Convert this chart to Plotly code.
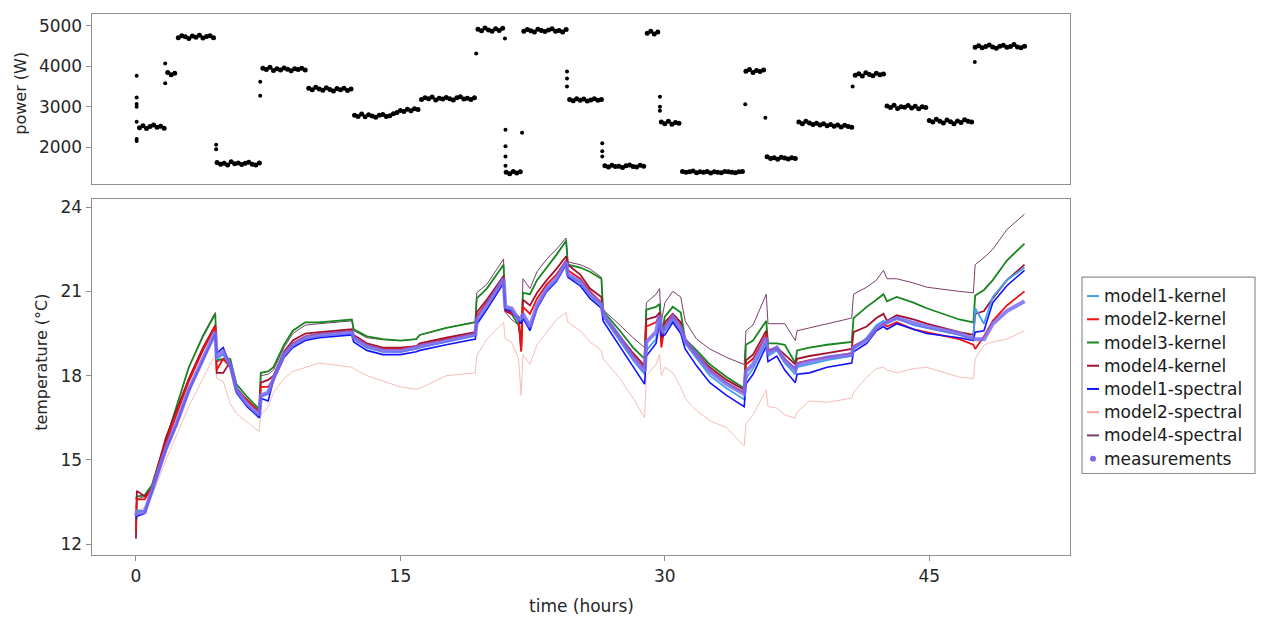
import numpy as np
import plotly.graph_objects as go

W, H = 1261, 622

# ---------------- heater power (top panel) ----------------
# regular log, one reading every 0.2 h starting at t = 0.2 h
sample_interval_h = 0.2
power_w = [
    2480, 2530, 2460, 2510, 2550, 2490, 2520, 2470,
    3850, 3790, 3830,
    4710, 4760, 4730, 4690, 4750, 4720, 4770, 4700, 4740, 4760, 4710,
    1620, 1580, 1600, 1560, 1640, 1590, 1610, 1570, 1600, 1630, 1580, 1560, 1610,
    3950, 3920, 3980, 3900, 3940, 3910, 3960, 3930, 3890, 3940, 3920, 3950, 3910,
    3460, 3420, 3480, 3440, 3410, 3470, 3430, 3390, 3450, 3420, 3460, 3400, 3440,
    2790, 2760, 2820, 2750, 2800, 2770, 2740, 2790, 2810, 2760, 2780, 2830,
    2860, 2910, 2880, 2940, 2900, 2950, 2930,
    3180, 3220, 3200, 3240, 3170, 3210, 3190, 3230, 3200, 3170, 3220, 3250, 3190, 3210, 3180, 3220,
    4920, 4880, 4950, 4900, 4870, 4930, 4890, 4940,
    1380, 1340, 1400, 1360, 1390,
    4870, 4910, 4880, 4850, 4920, 4890, 4860, 4900, 4930, 4870, 4890, 4850, 4910,
    3180, 3150, 3200, 3160, 3190, 3140, 3170, 3200, 3160, 3180,
    1540, 1510, 1550, 1520, 1530, 1500, 1540, 1560, 1520, 1510, 1550, 1530,
    4820, 4870, 4800, 4850,
    2620, 2580, 2640, 2570, 2610, 2590,
    1400, 1380, 1390, 1410, 1370, 1390, 1380, 1400, 1360, 1390, 1380, 1370, 1400, 1390, 1380, 1370, 1390, 1400,
    3880, 3920, 3850, 3900, 3870, 3910,
    1760, 1720, 1740, 1700, 1750, 1730, 1710, 1740, 1720,
    2620, 2580, 2640, 2600, 2560, 2590, 2550, 2580, 2530, 2560, 2520, 2550, 2500, 2540, 2510, 2490,
    3780, 3820, 3760, 3840, 3800, 3770, 3830, 3790, 3810,
    3020, 2980, 3040, 2960, 3000, 2990, 3030, 2970, 3010, 2950, 3000, 2980,
    2660, 2620, 2690, 2640, 2600, 2670, 2630, 2580, 2650, 2610, 2680, 2640, 2620,
    4470, 4510, 4460, 4490, 4530, 4480, 4450, 4500, 4520, 4470, 4490, 4540, 4480, 4460, 4500,
]
power_t = sample_interval_h * np.arange(1, len(power_w) + 1)

# fast readings taken while the power level was switching
switch_t = [0.04, 0.04, 0.04, 0.04, 0.04, 0.04, 0.04,
            1.66, 1.66, 4.55, 4.55, 7.05, 7.05, 19.3, 20.93,
            20.96, 20.96, 20.96, 20.96, 21.9, 24.45, 24.45, 24.45,
            26.45, 26.45, 26.45, 29.72, 29.72, 29.72, 34.56, 35.7, 40.65, 47.58]
switch_w = [3770, 3230, 3070, 3000, 2630, 2200, 2150,
            4070, 3580, 2060, 1950, 3620, 3270, 4320, 4690,
            2430, 2020, 1770, 1540, 2360, 3870, 3700, 3500,
            2100, 1900, 1770, 3250, 3000, 2900, 3060, 2730, 3500, 4110]

# ---------------- room temperature (bottom panel) ----------------
time_h = [
    0.00, 0.05, 0.5, 0.9, 1.7, 2.3, 3.0, 3.8, 4.50, 4.58,
    4.95, 5.35, 5.7, 6.3, 7.00, 7.08, 7.5, 7.8, 8.4, 8.9,
    9.6, 10.4, 12.25, 12.35, 13.1, 14.0, 15.0, 15.9, 16.1, 17.6,
    19.25, 19.33, 19.9, 20.85, 20.95, 21.3, 21.7, 21.85, 21.95, 22.35,
    22.75, 23.3, 23.85, 24.4, 24.5, 25.2, 25.75, 26.4, 26.5, 27.45,
    28.2, 28.85, 28.95, 29.5, 29.7, 29.8, 30.0, 30.45, 30.9, 31.15,
    31.8, 32.55, 33.5, 34.5, 34.6, 35.0, 35.75, 35.85, 36.35, 36.8,
    37.4, 37.5, 38.2, 39.2, 40.6, 40.7, 41.45, 42.0, 42.4, 42.6,
    43.15, 44.1, 44.85, 46.7, 47.5, 47.6, 48.1, 48.6, 49.4, 50.4,
]

temp_measured = [
    13.0, 13.1, 13.15, 13.9, 15.4, 16.3, 17.5, 18.6, 19.55, 18.7,
    18.85, 18.4, 17.5, 17.0, 16.6, 17.3, 17.4, 17.9, 18.75, 19.1,
    19.35, 19.45, 19.55, 19.35, 19.05, 18.9, 18.88, 19.0, 19.05, 19.24,
    19.47, 20.0, 20.5, 21.45, 20.45, 20.4, 20.0, 20.05, 20.2, 19.75,
    20.5, 21.1, 21.45, 22.05, 21.6, 21.35, 20.9, 20.55, 20.2, 19.35,
    18.65, 18.15, 19.2, 19.55, 20.15, 19.6, 19.7, 20.1, 19.7, 19.25,
    18.75, 18.15, 17.7, 17.35, 18.15, 18.4, 19.35, 18.8, 19.0, 18.55,
    18.2, 18.4, 18.5, 18.65, 18.75, 19.0, 19.25, 19.7, 19.85, 19.9,
    20.05, 19.88, 19.75, 19.5, 19.35, 19.3, 19.3, 19.85, 20.3, 20.65,
]
model1_kernel = [
    13.0, 13.2, 13.2, 13.9, 15.4, 16.3, 17.5, 18.6, 19.5, 18.6,
    18.75, 18.35, 17.45, 16.95, 16.55, 17.25, 17.35, 17.85, 18.7, 19.05,
    19.3, 19.4, 19.5, 19.3, 19.0, 18.85, 18.85, 18.95, 19.0, 19.2,
    19.42, 19.8, 20.4, 21.35, 20.4, 20.35, 20.0, 19.9, 20.1, 19.7,
    20.45, 21.05, 21.4, 22.0, 21.55, 21.3, 20.85, 20.5, 20.1, 19.25,
    18.55, 18.05, 18.9, 19.3, 20.0, 19.5, 19.6, 20.0, 19.6, 19.15,
    18.6, 18.0, 17.55, 17.15, 17.9, 18.25, 19.2, 18.7, 18.9, 18.45,
    18.05, 18.3, 18.4, 18.55, 18.7, 18.95, 19.35, 19.8, 19.95, 19.85,
    20.05, 19.8, 19.7, 19.45, 19.3, 20.4, 19.85, 20.8, 21.4, 21.85,
]
model2_kernel = [
    12.5, 13.6, 13.6, 14.0, 15.6, 16.6, 17.8, 18.9, 19.75, 18.2,
    18.6, 18.3, 17.5, 17.15, 16.7, 17.6, 17.6, 17.85, 18.7, 19.15,
    19.4, 19.5, 19.6, 19.4, 19.1, 18.95, 18.95, 19.05, 19.1, 19.3,
    19.5, 20.1, 20.6, 21.45, 20.35, 20.25, 20.05, 18.85, 20.45, 20.2,
    20.75, 21.25, 21.6, 22.1, 21.75, 21.45, 21.0, 20.6, 20.1, 19.35,
    18.7, 18.25, 19.75, 19.9, 20.15, 19.0, 19.8, 20.1, 19.8, 19.25,
    18.7, 18.2, 17.75, 17.4, 18.4, 18.6, 19.45, 18.85, 18.95, 18.6,
    18.25, 18.45, 18.55, 18.65, 18.8, 19.05, 19.3, 19.65, 19.85, 19.75,
    19.9, 19.65, 19.55, 19.3, 19.1, 18.95, 19.4, 19.95, 20.5, 21.0,
]
model3_kernel = [
    13.6, 13.7, 13.75, 14.1, 15.7, 16.9, 18.3, 19.4, 20.2, 18.55,
    18.6, 18.6, 17.7, 17.25, 16.8, 18.1, 18.15, 18.3, 19.1, 19.6,
    19.9, 19.9, 20.0, 19.65, 19.4, 19.3, 19.25, 19.3, 19.45, 19.7,
    19.9, 20.75, 21.1, 21.95, 20.35, 20.2, 19.8, 19.2, 20.95, 20.9,
    21.4, 21.85, 22.3, 22.8, 21.95, 21.85, 21.7, 21.45, 20.3, 19.6,
    19.0, 18.6, 20.35, 20.45, 20.55, 19.5, 20.1, 20.45, 20.25, 19.3,
    18.9, 18.4, 17.95, 17.55, 19.1, 19.25, 19.95, 19.15, 19.15, 19.1,
    18.45, 18.9, 19.0, 19.1, 19.2, 20.05, 20.45, 20.7, 20.9, 20.65,
    20.8, 20.6, 20.4, 20.0, 19.9, 20.85, 21.05, 21.4, 22.1, 22.7,
]
model4_kernel = [
    12.2, 13.9, 13.7, 14.0, 15.8, 16.8, 17.9, 19.0, 19.8, 18.1,
    18.1, 18.5, 17.55, 17.1, 16.7, 17.75, 17.85, 18.0, 18.85, 19.25,
    19.5, 19.55, 19.65, 19.45, 19.15, 19.0, 19.0, 19.05, 19.15, 19.35,
    19.55, 20.25, 20.7, 21.55, 20.3, 20.2, 20.1, 18.9, 20.7, 20.5,
    20.95, 21.4, 21.8, 22.25, 21.95, 21.6, 21.1, 20.8, 20.15, 19.4,
    18.8, 18.35, 20.0, 20.1, 20.25, 19.2, 19.9, 20.2, 19.9, 19.3,
    18.8, 18.3, 17.85, 17.5, 18.55, 18.75, 19.6, 18.9, 19.0, 18.75,
    18.4, 18.6, 18.7, 18.8, 18.95, 19.55, 19.75, 20.05, 20.2, 19.95,
    20.15, 20.0, 19.85, 19.55, 19.45, 20.2, 20.3, 20.75, 21.4, 21.95,
]
model1_spectral = [
    12.9, 13.0, 13.1, 13.85, 15.35, 16.25, 17.45, 18.55, 19.5, 18.8,
    19.0, 18.35, 17.4, 16.9, 16.5, 17.2, 17.1, 17.85, 18.65, 19.0,
    19.25, 19.35, 19.45, 19.2, 18.9, 18.75, 18.75, 18.85, 18.9, 19.1,
    19.3, 19.85, 20.35, 21.3, 20.35, 20.3, 19.95, 19.85, 20.05, 19.6,
    20.4, 21.0, 21.35, 21.95, 21.5, 21.2, 20.75, 20.4, 19.95, 19.05,
    18.3, 17.7, 18.7, 19.15, 19.9, 19.4, 19.45, 19.9, 19.5, 18.95,
    18.35, 17.75, 17.3, 16.9, 17.7, 18.05, 19.05, 18.5, 18.7, 18.2,
    17.75, 18.05, 18.1, 18.3, 18.45, 18.85, 19.15, 19.6, 19.75, 19.65,
    19.85, 19.65, 19.5, 19.35, 19.25, 19.55, 19.6, 20.6, 21.2, 21.75,
]
model2_spectral = [
    12.9, 13.2, 13.3, 13.7, 15.0, 15.9, 16.9, 17.9, 18.75, 17.9,
    17.8, 17.0, 16.65, 16.35, 16.0, 16.6, 16.9, 17.4, 17.9, 18.15,
    18.3, 18.45, 18.3, 18.25, 18.0, 17.8, 17.6, 17.52, 17.55, 18.0,
    18.1, 18.7, 19.3, 19.9, 19.3, 19.2, 18.6, 17.3, 18.75, 18.4,
    19.1, 19.55, 20.0, 20.25, 19.9, 19.6, 19.2, 18.9, 18.6, 17.9,
    17.2, 16.5, 18.0, 18.4, 18.75, 18.0, 18.3, 18.1, 17.6, 17.2,
    16.75, 16.4, 16.15, 15.5, 16.3, 16.6, 17.5, 16.9, 16.85, 16.6,
    16.5, 16.7, 17.1, 17.05, 17.2, 17.4, 17.95, 18.25, 18.3, 18.2,
    18.1, 18.25, 18.3, 17.95, 17.9, 18.6, 19.1, 19.2, 19.3, 19.6,
]
model4_spectral = [
    13.3, 13.6, 13.7, 14.0, 15.7, 16.9, 18.3, 19.45, 20.25, 18.5,
    18.55, 18.5, 17.6, 17.15, 16.75, 18.0, 18.05, 18.2, 19.0, 19.5,
    19.8, 19.85, 19.95, 19.6, 19.35, 19.28, 19.25, 19.3, 19.45, 19.7,
    19.92, 20.95, 21.25, 22.15, 20.25, 20.0, 19.8, 19.1, 21.45, 21.1,
    21.7, 22.15, 22.5, 22.9, 22.05, 21.95, 21.8, 21.5, 20.35, 19.8,
    19.35, 19.0, 20.6, 20.9, 21.1, 19.9, 20.6, 21.0, 20.8, 19.95,
    19.3, 18.95, 18.65, 18.4, 19.6, 19.8, 20.9, 19.85, 19.85, 19.85,
    19.25, 19.6, 19.7, 19.85, 20.05, 20.9, 21.15, 21.4, 21.75, 21.45,
    21.45, 21.3, 21.15, 21.0, 20.95, 21.95, 22.2, 22.5, 23.2, 23.75,
]

power_ticks = [2000, 3000, 4000, 5000]
temp_ticks = [12, 15, 18, 21, 24]
time_ticks = [0, 15, 30, 45]

# name, values, colour, width, opacity   (drawing order)
series = [
    ("model2-spectral", model2_spectral, "#f2a39a", 1.0, 0.7),
    ("model4-spectral", model4_spectral, "#7b3f6a", 1.0, 1.0),
    ("model3-kernel", model3_kernel, "#17861f", 1.8, 1.0),
    ("model4-kernel", model4_kernel, "#a3122e", 1.8, 1.0),
    ("model2-kernel", model2_kernel, "#f01010", 1.8, 1.0),
    ("model1-kernel", model1_kernel, "#3fa2ee", 1.8, 1.0),
    ("model1-spectral", model1_spectral, "#1212ff", 1.6, 1.0),
]
meas_color = "#7a6cf2"

for name, vals, *_ in series:
    assert len(vals) == len(time_h), name
assert len(temp_measured) == len(time_h)

fig = go.Figure()

fig.add_trace(go.Scatter(x=power_t, y=power_w, mode="markers", xaxis="x2", yaxis="y2",
                         marker=dict(color="black", size=5), showlegend=False))
fig.add_trace(go.Scatter(x=switch_t, y=switch_w, mode="markers", xaxis="x2", yaxis="y2",
                         marker=dict(color="black", size=4), showlegend=False))

for name, vals, color, width, op in series:
    fig.add_trace(go.Scatter(x=time_h, y=vals, mode="lines", name=name, opacity=op,
                             line=dict(color=color, width=width), showlegend=False))
fig.add_trace(go.Scatter(x=time_h, y=temp_measured, mode="lines", name="measurements",
                         opacity=0.85, line=dict(color=meas_color, width=4),
                         showlegend=False))

# plot-area geometry in pixels
left, right = 91.7, 1070.0
top_y0, top_y1 = 12.3, 182.7
bot_y0, bot_y1 = 197.3, 555.0
t_range = [-2.51, 52.98]


def px(x):
    return x / W


def py(y):
    return 1 - y / H


frame = "#8f8f8f"
tick_font = dict(family="DejaVu Sans", size=17, color="#262626")
axis_common = dict(showgrid=False, zeroline=False, showline=True, mirror=True,
                   linecolor=frame, linewidth=1.2, tickcolor=frame, ticklen=5,
                   tickfont=tick_font)

fig.update_layout(
    width=W, height=H, margin=dict(l=0, r=0, t=0, b=0),
    paper_bgcolor="white", plot_bgcolor="white", showlegend=False,
    xaxis=dict(domain=[px(left), px(right)], range=t_range, anchor="y",
               tickvals=time_ticks, ticks="outside", **axis_common),
    yaxis=dict(domain=[py(bot_y1), py(bot_y0)], range=[11.61, 24.30], anchor="x",
               tickvals=temp_ticks, ticks="outside", **axis_common),
    xaxis2=dict(domain=[px(left), px(right)], range=t_range, anchor="y2",
                showticklabels=False, ticks="", **{k: v for k, v in axis_common.items()
                                                    if k not in ("ticklen", "tickcolor")}),
    yaxis2=dict(domain=[py(top_y1), py(top_y0)], range=[1086, 5289], anchor="x2",
                tickvals=power_ticks, ticks="outside", **axis_common),
)

title_font = dict(family="DejaVu Sans", size=16, color="#262626")
fig.add_annotation(x=px(21), y=py(92), xref="paper", yref="paper", text="power (W)",
                   textangle=-90, showarrow=False, font=title_font,
                   xanchor="center", yanchor="middle")
fig.add_annotation(x=px(42), y=py(362), xref="paper", yref="paper", text="temperature (°C)",
                   textangle=-90, showarrow=False, font=title_font,
                   xanchor="center", yanchor="middle")
fig.add_annotation(x=px(581), y=py(606), xref="paper", yref="paper", text="time (hours)",
                   showarrow=False, font=dict(family="DejaVu Sans", size=17, color="#262626"),
                   xanchor="center", yanchor="middle")

# legend box
fig.add_shape(type="rect", xref="paper", yref="paper",
              x0=px(1082), x1=px(1255), y0=py(473), y1=py(276),
              line=dict(color=frame, width=1.2), fillcolor="white", layer="above")
legend_rows = [
    ("model1-kernel", "#3fa2ee"),
    ("model2-kernel", "#f01010"),
    ("model3-kernel", "#17861f"),
    ("model4-kernel", "#a3122e"),
    ("model1-spectral", "#1212ff"),
    ("model2-spectral", "#f2a39a"),
    ("model4-spectral", "#7b3f6a"),
]
row0, row_step = 295.0, 23.3
legend_font = dict(family="DejaVu Sans", size=17, color="#1a1a1a")
for i, (name, color) in enumerate(legend_rows):
    yy = row0 + i * row_step
    fig.add_shape(type="line", xref="paper", yref="paper", layer="above",
                  x0=px(1087), x1=px(1099), y0=py(yy), y1=py(yy),
                  line=dict(color=color, width=2))
    fig.add_annotation(x=px(1102), y=py(yy), xref="paper", yref="paper", text=name,
                       xanchor="left", yanchor="middle", showarrow=False, font=legend_font)
ym = row0 + 7 * row_step
fig.add_shape(type="circle", xref="paper", yref="paper", layer="above",
              x0=px(1090), x1=px(1096), y0=py(ym + 3), y1=py(ym - 3),
              line=dict(color=meas_color, width=0), fillcolor=meas_color)
fig.add_annotation(x=px(1102), y=py(ym), xref="paper", yref="paper", text="measurements",
                   xanchor="left", yanchor="middle", showarrow=False, font=legend_font)

fig.write_html("out.html")
